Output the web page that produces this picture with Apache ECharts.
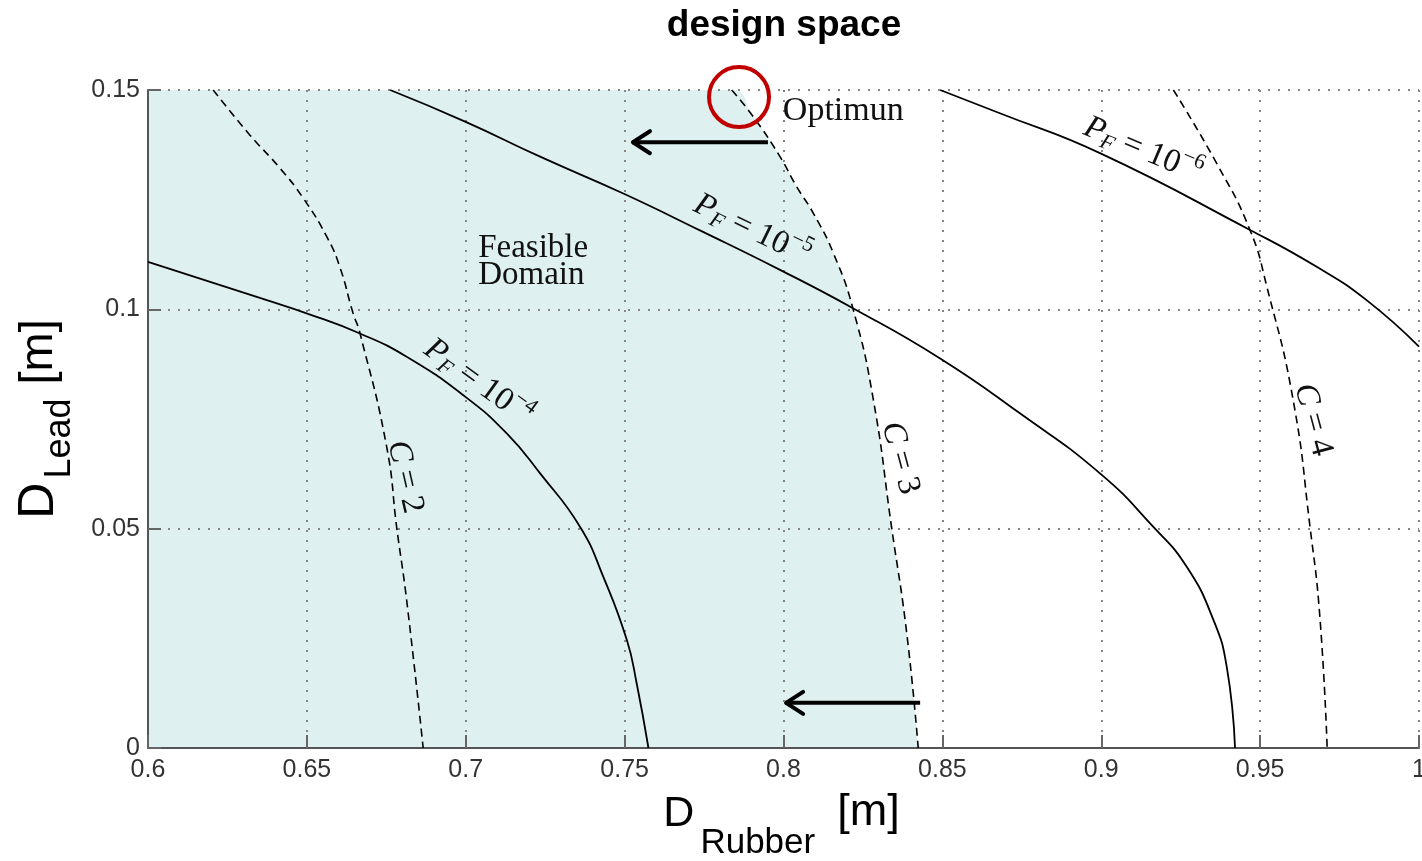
<!DOCTYPE html>
<html>
<head>
<meta charset="utf-8">
<title>design space</title>
<script src="https://cdn.jsdelivr.net/npm/echarts@6.0.0/dist/echarts.min.js"></script>
<style>
html, body { margin: 0; padding: 0; background: #fff; }
#chart { width: 1422px; height: 861px; }
</style>
</head>
<body>
<div id="chart"></div>
<script>
// failure probability iso-lines (solid)
const pf4X = [0.600, 0.6374, 0.6499, 0.6667, 0.6814, 0.6998, 0.7129, 0.7234, 0.7360, 0.7433, 0.7507, 0.7538, 0.7575]
const pf4Y = [0.1108, 0.1021, 0.0991, 0.0945, 0.0892, 0.0801, 0.0717, 0.0626, 0.0504, 0.0390, 0.0246, 0.0147, 0]
const pf5X = [0.6762, 0.6998, 0.7234, 0.7496, 0.7737, 0.7989, 0.8220, 0.8493, 0.8744, 0.8996, 0.9164, 0.9269, 0.9353, 0.9395, 0.9421]
const pf5Y = [0.150, 0.1428, 0.1348, 0.1264, 0.1180, 0.1090, 0.1002, 0.0888, 0.0763, 0.0626, 0.0504, 0.0413, 0.0292, 0.0185, 0]
const pf6X = [0.8493, 0.8681, 0.8996, 0.9468, 0.9678, 0.9835, 1.0]
const pf6Y = [0.150, 0.1447, 0.1356, 0.1181, 0.1097, 0.1021, 0.0915]

// cost iso-lines (dashed)
const c2X = [0.6205, 0.6321, 0.6415, 0.6488, 0.6563, 0.6604, 0.6645, 0.6667, 0.6751, 0.6783, 0.6814, 0.6866]
const c2Y = [0.150, 0.1397, 0.1322, 0.1254, 0.1165, 0.1096, 0.0992, 0.0946, 0.0687, 0.0501, 0.0337, 0]
const c3X = [0.7837, 0.7905, 0.7989, 0.8041, 0.8094, 0.8157, 0.8220, 0.8283, 0.8340, 0.8388, 0.8424]
const c3Y = [0.150, 0.1439, 0.1348, 0.1280, 0.1219, 0.1128, 0.0998, 0.0793, 0.0504, 0.0261, 0]
const c4X = [0.9227, 0.9363, 0.9468, 0.9521, 0.9604, 0.9657, 0.9688, 0.9711]
const c4Y = [0.150, 0.1333, 0.1181, 0.1052, 0.0793, 0.0504, 0.0299, 0]

// axis ranges
const xRange = [0.6, 1.0]
const yRange = [0, 0.15]
const xStep = 0.05
const yStep = 0.05

const zip = (xs, ys) => xs.map((x, i) => [x, ys[i]])

const serif = 'Liberation Serif'
const sans = 'Liberation Sans'

const axisCommon = {
  type: 'value',
  z: 1,
  axisLine: { show: true, onZero: false, lineStyle: { color: '#555', width: 2 } },
  axisTick: { show: true, inside: true, length: 13, lineStyle: { color: '#666', width: 2 } },
  axisLabel: { fontSize: 25, color: '#333', fontFamily: sans },
  splitLine: { show: true, lineStyle: { color: '#858585', width: 2, type: [2, 8] } }
}

const solid = (name, xs, ys) => ({
  name, type: 'line', data: zip(xs, ys), smooth: 0.5, symbol: 'none', z: 3,
  lineStyle: { color: '#000', width: 1.8 }
})
const dashed = (name, xs, ys) => ({
  name, type: 'line', data: zip(xs, ys), smooth: 0.5, symbol: 'none', z: 3,
  lineStyle: { color: '#000', width: 1.6, type: [8, 5] }
})

const option = {
  animation: false,
  backgroundColor: '#fff',
  title: {
    text: 'design space',
    left: 779, top: 2, textAlign: 'center',
    textStyle: { fontFamily: sans, fontWeight: 'bold', fontSize: 37, color: '#000' }
  },
  grid: { left: 148, right: 3, top: 90, bottom: 113, containLabel: false, outerBoundsMode: 'none' },
  xAxis: Object.assign({}, axisCommon, {
    min: xRange[0], max: xRange[1], interval: xStep,
    axisLabel: Object.assign({}, axisCommon.axisLabel, { margin: 10 }),
    name: '{d|D}{s|Rubber}{m|[m]}',
    nameLocation: 'middle', nameGap: 42,
    nameTextStyle: {
      color: '#000', fontFamily: sans,
      rich: {
        d: { fontSize: 43, fontFamily: sans, color: '#000', padding: [0, 0, 26, 0] },
        s: { fontSize: 35, fontFamily: sans, color: '#000', padding: [32, 22, 0, 6] },
        m: { fontSize: 45, fontFamily: sans, color: '#000', padding: [0, 4, 30, 0] }
      }
    }
  }),
  yAxis: Object.assign({}, axisCommon, {
    min: yRange[0], max: yRange[1], interval: yStep,
    axisLabel: Object.assign({}, axisCommon.axisLabel, { margin: 8 }),
    name: '{d|D}{s|Lead}{m|[m]}',
    nameLocation: 'middle', nameGap: 66, nameRotate: 90,
    nameTextStyle: {
      color: '#000', fontFamily: sans,
      rich: {
        d: { fontSize: 50, fontFamily: sans, color: '#000', padding: [0, 0, 18, 0] },
        s: { fontSize: 36, fontFamily: sans, color: '#000', padding: [24, 14, 0, 4] },
        m: { fontSize: 47, fontFamily: sans, color: '#000', padding: [0, 0, 18, 0] }
      }
    }
  }),
  series: [
    // feasible domain: everything left of the C = 3 curve
    {
      name: 'feasible', type: 'line', z: 0, smooth: 0.5, symbol: 'none',
      data: zip([xRange[0]].concat(c3X), [yRange[1]].concat(c3Y)),
      lineStyle: { width: 0, opacity: 0 },
      areaStyle: { color: '#dff0f0', opacity: 1, origin: 'start' }
    },
    solid('PF1e-4', pf4X, pf4Y),
    solid('PF1e-5', pf5X, pf5Y),
    solid('PF1e-6', pf6X, pf6Y),
    dashed('C2', c2X, c2Y),
    dashed('C3', c3X, c3Y),
    dashed('C4', c4X, c4Y)
  ]
}

const chart = echarts.init(document.getElementById('chart'))
chart.setOption(option)

// ---- annotations (placed in data coordinates) ----
const px = p => chart.convertToPixel({ gridIndex: 0 }, p)

const mathRich = {
  i: { fontFamily: serif, fontStyle: 'italic', fontSize: 33, color: '#111' },
  t: { fontFamily: serif, fontSize: 33, color: '#111' },
  sub: { fontFamily: serif, fontStyle: 'italic', fontSize: 22, color: '#111', padding: [16, 0, 0, 0] },
  sup: { fontFamily: serif, fontSize: 22, color: '#111', padding: [0, 0, 22, 0] }
}
const curveLabels = [
  { text: '{i|P}{sub|F}{t| = 10}{sup|−4}', at: [0.7039, 0.0834], angle: -36 },
  { text: '{i|P}{sub|F}{t| = 10}{sup|−5}', at: [0.7901, 0.1181], angle: -26 },
  { text: '{i|P}{sub|F}{t| = 10}{sup|−6}', at: [0.9131, 0.1363], angle: -23 },
  { text: '{i|C}{t| = 2}', at: [0.6809, 0.0618], angle: -77 },
  { text: '{i|C}{t| = 3}', at: [0.8367, 0.0661], angle: -75 },
  { text: '{i|C}{t| = 4}', at: [0.9666, 0.0748], angle: -75 }
]

const arrow = (from, to) => {
  const a = px(from), b = px(to)
  return {
    type: 'group', z: 20,
    children: [
      { type: 'line', shape: { x1: a[0], y1: a[1], x2: b[0], y2: b[1] }, style: { stroke: '#000', lineWidth: 4 } },
      {
        type: 'polyline',
        shape: { points: [[b[0] + 18, b[1] - 11], [b[0] + 1, b[1]], [b[0] + 18, b[1] + 11]] },
        style: { stroke: '#000', lineWidth: 4, fill: 'none', lineCap: 'round', lineJoin: 'round' }
      }
    ]
  }
}

const graphics = curveLabels.map(l => {
  const p = px(l.at)
  return {
    type: 'text', x: p[0], y: p[1], z: 20,
    rotation: l.angle * Math.PI / 180,
    style: { text: l.text, rich: mathRich, align: 'center', verticalAlign: 'middle', fontFamily: serif, fontSize: 33, fill: '#111' }
  }
})

const feasiblePos = px([0.7039, 0.1108])
graphics.push({
  type: 'text', x: feasiblePos[0], y: feasiblePos[1], z: 20,
  style: { text: 'Feasible\nDomain', fontFamily: serif, fontSize: 33, lineHeight: 27, fill: '#111', align: 'left', verticalAlign: 'middle' }
})
const optPos = px([0.7998, 0.1452])
graphics.push({
  type: 'text', x: optPos[0], y: optPos[1], z: 20,
  style: { text: 'Optimun', fontFamily: serif, fontSize: 34, fill: '#111', align: 'left', verticalAlign: 'middle' }
})
const circlePos = px([0.786, 0.1484])
graphics.push({
  type: 'circle', z: 20,
  shape: { cx: circlePos[0], cy: circlePos[1], r: 30 },
  style: { stroke: '#c00000', lineWidth: 4, fill: 'none' }
})
graphics.push(arrow([0.7951, 0.1381], [0.7523, 0.1381]))
graphics.push(arrow([0.8430, 0.0103], [0.8005, 0.0103]))

chart.setOption({ graphic: graphics })

window.addEventListener('resize', () => chart.resize())
</script>
</body>
</html>
